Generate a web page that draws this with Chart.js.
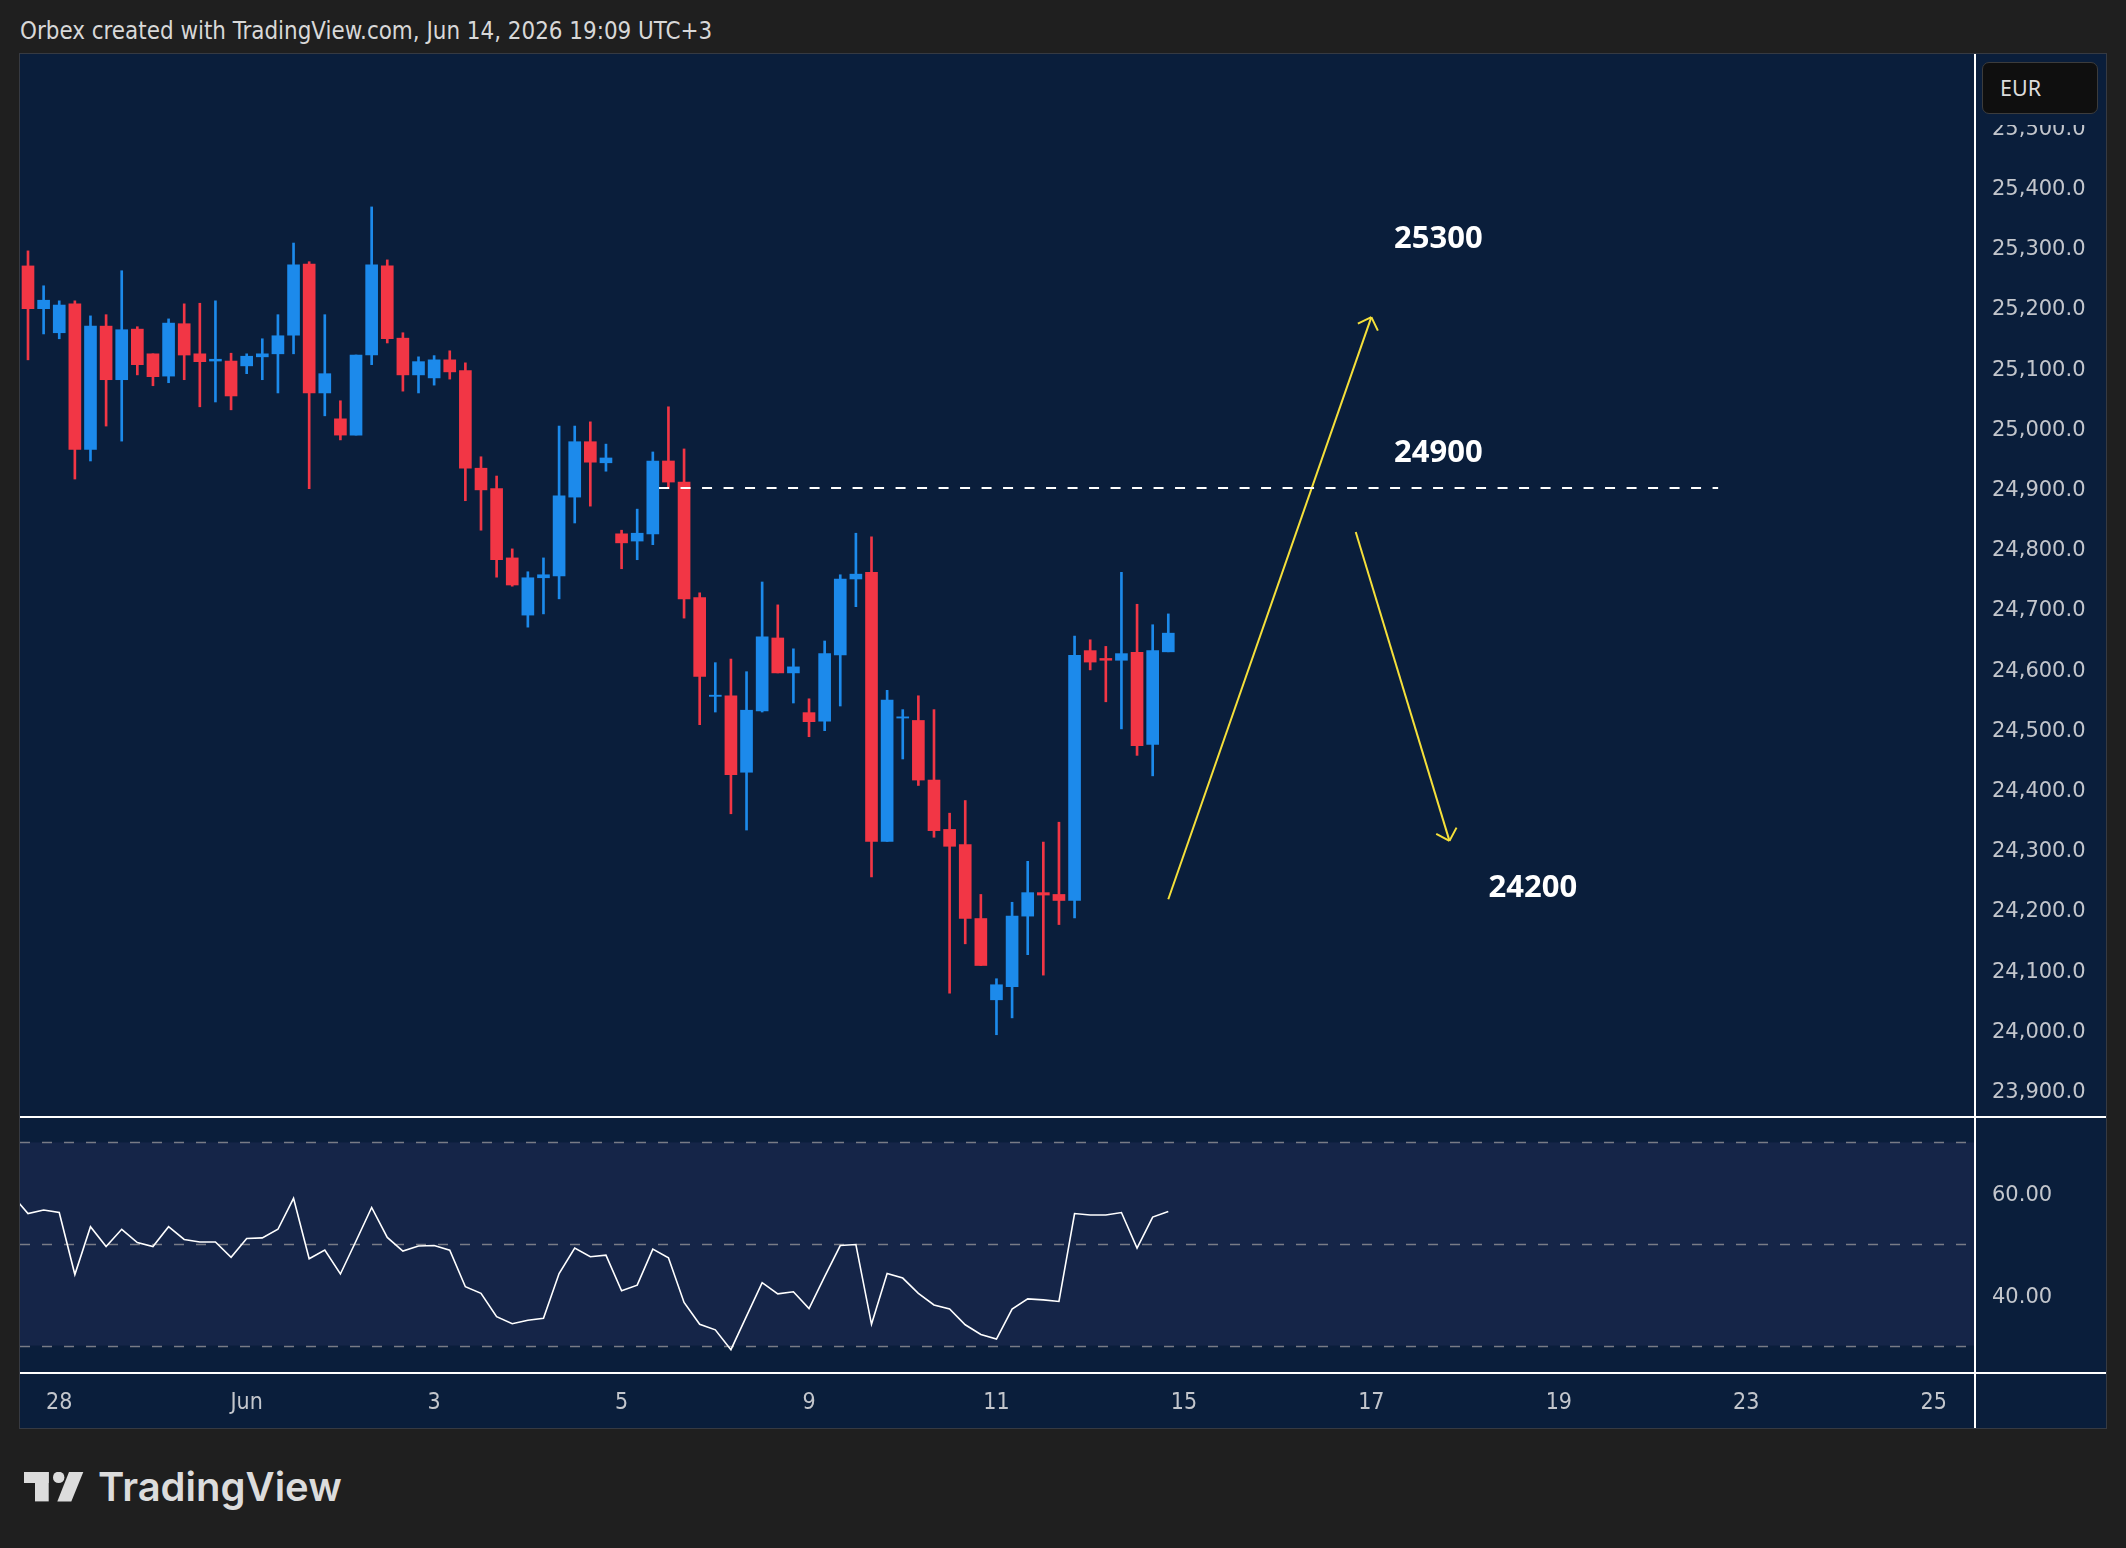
<!DOCTYPE html>
<html>
<head>
<meta charset="utf-8">
<script src="https://cdn.jsdelivr.net/npm/chart.js@4.4.1/dist/chart.umd.min.js"></script>
<style>
  html, body { margin: 0; padding: 0; }
  body { width: 2126px; height: 1548px; background: #1f1f1f; position: relative; overflow: hidden; }
  #title { position: absolute; left: 20px; top: 19px; font-family: "DejaVu Sans Condensed", "DejaVu Sans"; font-stretch: condensed; font-size: 23.9px; line-height: 24px; color: #d8d8d8; white-space: nowrap; }
  #pane { position: absolute; left: 19px; top: 53px; width: 2086px; height: 1374px; background: #0a1e3b; border: 1px solid #363a42; }
  #pane canvas { position: absolute; left: 0; }
  #priceChart { top: 0; }
  #rsiChart { top: 1062px; }
  #axisMask { position: absolute; left: 1956px; top: 0; width: 130px; height: 71px; background: #0a1e3b; }
  #cur { position: absolute; left: 1962px; top: 8px; width: 116px; height: 52px; box-sizing: border-box; background: #0f0f0f; border: 1px solid #3c3c3c; border-radius: 7px; color: #dcdcdc; font-family: "Noto Sans"; font-size: 21.5px; line-height: 50px; padding-left: 17px; }
  #logo { position: absolute; left: 24px; top: 1472px; }
  #logoText { position: absolute; left: 98px; top: 1467px; font-family: Inter; font-weight: 600; font-size: 40px; line-height: 40px; color: #dcdcdc; }
</style>
</head>
<body>
<div id="title">Orbex created with TradingView.com, Jun 14, 2026 19:09 UTC+3</div>
<div id="pane">
  <canvas id="priceChart" width="2086" height="1062"></canvas>
  <canvas id="rsiChart" width="2086" height="312"></canvas>
  <div id="axisMask"></div>
  <div id="cur">EUR</div>
</div>
<svg id="logo" width="62" height="31" viewBox="0 0 62 31">
  <rect x="0" y="0" width="24.7" height="11" fill="#dcdcdc"/>
  <rect x="11" y="0" width="13.7" height="29.4" fill="#dcdcdc"/>
  <circle cx="34.7" cy="5.4" r="5.7" fill="#dcdcdc"/>
  <polygon points="45,0 59.3,0 47.3,29.4 33.3,29.4" fill="#dcdcdc"/>
</svg>
<div id="logoText">TradingView</div>
<script>
// 4h candles, May 27 (last two) to Jun 12
const openPrices = [25269, 25198, 25158, 25206, 24964, 25169, 25080, 25164, 25123, 25086,
  25173, 25123, 25111, 25111, 25103, 25118, 25123, 25154, 25272, 25058,
  25015, 24988, 25121, 25269, 25149, 25088, 25083, 25113, 25095, 24933,
  24899, 24784, 24689, 24751, 24754, 24885, 24977, 24942, 24824, 24812,
  24824, 24945, 24910, 24718, 24554, 24555, 24428, 24530, 24651, 24593,
  24527, 24513, 24623, 24749, 24760, 24313, 24518, 24514, 24415, 24333,
  24308, 24185, 24050, 24072, 24189, 24228, 24225, 24215, 24630, 24617,
  24614, 24627, 24474, 24628];
const highPrices = [25294, 25236, 25211, 25211, 25186, 25188, 25261, 25168, 25123, 25181,
  25206, 25207, 25211, 25124, 25123, 25148, 25188, 25307, 25276, 25188,
  25045, 25121, 25367, 25279, 25158, 25118, 25120, 25128, 25108, 24952,
  24920, 24799, 24761, 24784, 25003, 25003, 25010, 24973, 24830, 24865,
  24960, 25035, 24965, 24726, 24610, 24616, 24595, 24744, 24706, 24633,
  24550, 24646, 24756, 24825, 24819, 24564, 24532, 24555, 24532, 24360,
  24381, 24225, 24085, 24212, 24280, 24312, 24345, 24654, 24648, 24637,
  24760, 24707, 24673, 24691];
const lowPrices = [25113, 25156, 25148, 24915, 24945, 25003, 24978, 25088, 25070, 25075,
  25080, 25035, 25043, 25030, 25090, 25080, 25058, 25123, 24899, 25020,
  24980, 24988, 25105, 25141, 25061, 25058, 25071, 25081, 24879, 24830,
  24752, 24737, 24669, 24691, 24716, 24842, 24870, 24928, 24766, 24781,
  24806, 24899, 24684, 24507, 24528, 24359, 24332, 24528, 24593, 24543,
  24487, 24497, 24538, 24703, 24254, 24313, 24450, 24406, 24320, 24061,
  24143, 24107, 23992, 24020, 24125, 24091, 24175, 24186, 24598, 24545,
  24500, 24456, 24422, 24628];
const closePrices = [25198, 25212, 25204, 24964, 25169, 25080, 25163, 25105, 25085, 25174,
  25121, 25110, 25114, 25053, 25119, 25123, 25153, 25271, 25058, 25090,
  24988, 25121, 25271, 25148, 25088, 25110, 25113, 25093, 24933, 24897,
  24781, 24739, 24751, 24756, 24887, 24977, 24943, 24950, 24809, 24825,
  24945, 24910, 24716, 24587, 24556, 24424, 24531, 24653, 24593, 24603,
  24512, 24625, 24749, 24757, 24313, 24548, 24520, 24415, 24331, 24305,
  24185, 24107, 24075, 24189, 24228, 24224, 24215, 24622, 24611, 24614,
  24625, 24472, 24630, 24659];

// RSI, first value belongs to the candle just left of the pane (index -1)
const rsiValues = [59.6, 56.0, 56.7, 56.2, 44.0, 53.4, 49.5, 52.9, 50.3, 49.5,
  53.4, 50.9, 50.4, 50.4, 47.4, 51.1, 51.2, 52.9, 59.0, 47.1,
  48.8, 44.1, 50.6, 57.2, 51.3, 48.6, 49.6, 49.7, 48.8, 41.6,
  40.3, 35.7, 34.3, 35.0, 35.4, 44.2, 49.2, 47.5, 47.8, 40.8,
  41.9, 49.0, 47.3, 38.5, 34.2, 33.1, 29.2, 35.8, 42.4, 40.2,
  40.6, 37.3, 43.6, 49.7, 49.9, 34.2, 44.2, 43.3, 40.3, 38.0,
  37.2, 34.1, 32.2, 31.3, 37.2, 39.2, 39.0, 38.7, 56.0, 55.7,
  55.7, 56.2, 49.2, 55.3, 56.4];
const rsiStart = -1;
const rsiLevels = [70, 50, 30];
const rsiTicks = [40, 60];

const priceTicks = [23900, 24000, 24100, 24200, 24300, 24400, 24500, 24600, 24700,
  24800, 24900, 25000, 25100, 25200, 25300, 25400, 25500, 25600];
const dateTickIndex = [2, 14, 26, 38, 50, 62, 74, 86, 98, 110, 122];
const dateTickLabels = ['28', 'Jun', '3', '5', '9', '11', '15', '17', '19', '23', '25'];

// drawings
const levelPrice = 24900;
const levelX = [40.4, 108.2];
const upArrowX = [73.0, 86.0];
const upArrowY = [24217, 25184];
const downArrowX = [85.0, 91.0];
const downArrowY = [24827, 24314];
const targetLabels = ['25300', '24900', '24200'];
const targetX = [87.45, 87.45, 93.5];
const targetY = [25298, 24944, 24221];

const xMin = -0.512;
const xMax = 124.58;
const upColor = '#1c8aeb';
const downColor = '#f23645';
const arrowColor = '#f5e03a';
const axisText = '#c3c6cc';

const candleColors = closePrices.map((c, i) => (c >= openPrices[i] ? upColor : downColor));

// keep the plot area exactly the canvas minus the axis strip
function noPad(s) {
  s.paddingTop = 0;
  s.paddingBottom = 0;
  s.paddingLeft = 0;
  s.paddingRight = 0;
}

const priceDecor = {
  id: 'priceDecor',
  afterDatasetsDraw(chart) {
    const { ctx, scales: { x, y } } = chart;
    ctx.save();
    ctx.strokeStyle = arrowColor;
    ctx.lineWidth = 2;
    [3, 4].forEach((k) => {
      const pts = chart.getDatasetMeta(k).data;
      const a = pts[pts.length - 2];
      const b = pts[pts.length - 1];
      const ang = Math.atan2(b.y - a.y, b.x - a.x);
      ctx.beginPath();
      [Math.PI * 0.75, -Math.PI * 0.75].forEach((d) => {
        ctx.moveTo(b.x, b.y);
        ctx.lineTo(b.x + 15 * Math.cos(ang + d), b.y + 15 * Math.sin(ang + d));
      });
      ctx.stroke();
    });
    ctx.fillStyle = '#ffffff';
    ctx.font = 'bold 31px "Noto Sans"';
    ctx.textBaseline = 'alphabetic';
    ctx.textAlign = 'left';
    targetLabels.forEach((t, k) => {
      ctx.fillText(t, x.getPixelForValue(targetX[k]), y.getPixelForValue(targetY[k]));
    });
    ctx.restore();
  },
  afterDraw(chart) {
    const { ctx, chartArea } = chart;
    ctx.save();
    ctx.fillStyle = '#ffffff';
    ctx.fillRect(chartArea.right, 0, 2, chart.height);
    ctx.restore();
  }
};

const rsiDecor = {
  id: 'rsiDecor',
  beforeDatasetsDraw(chart) {
    const { ctx, chartArea, scales: { y } } = chart;
    ctx.save();
    ctx.fillStyle = '#152548';
    const top = y.getPixelForValue(rsiLevels[0]);
    const bottom = y.getPixelForValue(rsiLevels[2]);
    ctx.fillRect(chartArea.left, top, chartArea.right - chartArea.left, bottom - top);
    ctx.strokeStyle = '#787b86';
    ctx.lineWidth = 1.5;
    ctx.setLineDash([10, 12]);
    rsiLevels.forEach((v) => {
      const py = Math.round(y.getPixelForValue(v)) + 0.5;
      ctx.beginPath();
      ctx.moveTo(chartArea.left, py);
      ctx.lineTo(chartArea.right, py);
      ctx.stroke();
    });
    ctx.restore();
  },
  afterDraw(chart) {
    const { ctx, chartArea } = chart;
    ctx.save();
    ctx.fillStyle = '#ffffff';
    ctx.fillRect(chartArea.right, 0, 2, chart.height);
    ctx.fillRect(0, 0, chart.width, 2);
    ctx.fillRect(0, chartArea.bottom - 1, chart.width, 2);
    ctx.restore();
  }
};

new Chart(document.getElementById('priceChart'), {
  type: 'bar',
  data: {
    datasets: [
      {
        label: 'body',
        data: openPrices.map((o, i) => ({ x: i, y: [o, closePrices[i]] })),
        backgroundColor: candleColors,
        barThickness: 12,
        grouped: false,
        borderWidth: 0,
        order: 1
      },
      {
        label: 'wick',
        data: lowPrices.map((l, i) => ({ x: i, y: [l, highPrices[i]] })),
        backgroundColor: candleColors,
        barThickness: 2,
        grouped: false,
        borderWidth: 0,
        order: 2
      },
      {
        type: 'line',
        label: 'level',
        data: levelX.map((x) => ({ x: x, y: levelPrice })),
        borderColor: '#ffffff',
        borderWidth: 2,
        borderDash: [10, 11.5],
        pointRadius: 0,
        order: 0
      },
      {
        type: 'line',
        label: 'up',
        data: upArrowX.map((x, k) => ({ x: x, y: upArrowY[k] })),
        borderColor: arrowColor,
        borderWidth: 2,
        pointRadius: 0,
        order: 0
      },
      {
        type: 'line',
        label: 'down',
        data: downArrowX.map((x, k) => ({ x: x, y: downArrowY[k] })),
        borderColor: arrowColor,
        borderWidth: 2,
        pointRadius: 0,
        order: 0
      }
    ]
  },
  options: {
    responsive: false,
    animation: false,
    devicePixelRatio: 1,
    layout: { padding: 0 },
    plugins: { legend: { display: false }, tooltip: { enabled: false } },
    scales: {
      x: { type: 'linear', min: xMin, max: xMax, offset: false, display: false },
      y: {
        position: 'right',
        min: 23857,
        max: 25621,
        grid: { display: false, drawTicks: false },
        border: { display: false },
        afterBuildTicks: (s) => { s.ticks = priceTicks.map((v) => ({ value: v })); },
        afterFit: (s) => { s.width = 132; noPad(s); },
        ticks: {
          color: axisText,
          font: { family: 'DejaVu Sans', size: 21 },
          padding: 18,
          labelOffset: 2.5,
          callback: (v) => v.toLocaleString('en-US', { minimumFractionDigits: 1, maximumFractionDigits: 1 })
        }
      }
    }
  },
  plugins: [priceDecor]
});

new Chart(document.getElementById('rsiChart'), {
  type: 'line',
  data: {
    datasets: [{
      label: 'RSI',
      data: rsiValues.map((v, i) => ({ x: rsiStart + i, y: v })),
      borderColor: '#ffffff',
      borderWidth: 1.6,
      pointRadius: 0,
      tension: 0
    }]
  },
  options: {
    responsive: false,
    animation: false,
    devicePixelRatio: 1,
    layout: { padding: 0 },
    plugins: { legend: { display: false }, tooltip: { enabled: false } },
    scales: {
      x: {
        type: 'linear',
        min: xMin,
        max: xMax,
        offset: false,
        grid: { display: false, drawTicks: false },
        border: { display: false },
        afterBuildTicks: (s) => { s.ticks = dateTickIndex.map((v) => ({ value: v })); },
        afterFit: (s) => { s.height = 55; noPad(s); },
        ticks: {
          color: axisText,
          autoSkip: false,
          maxRotation: 0,
          font: { family: '"DejaVu Sans Condensed", "DejaVu Sans"', size: 23 },
          padding: 16,
          callback: (v) => dateTickLabels[dateTickIndex.indexOf(v)]
        }
      },
      y: {
        position: 'right',
        min: 24.61,
        max: 75.2,
        grid: { display: false, drawTicks: false },
        border: { display: false },
        afterBuildTicks: (s) => { s.ticks = rsiTicks.map((v) => ({ value: v })); },
        afterFit: (s) => { s.width = 132; noPad(s); },
        ticks: {
          color: axisText,
          font: { family: 'DejaVu Sans', size: 21 },
          padding: 18,
          labelOffset: 2.5,
          callback: (v) => v.toFixed(2)
        }
      }
    }
  },
  plugins: [rsiDecor]
});
</script>
</body>
</html>
